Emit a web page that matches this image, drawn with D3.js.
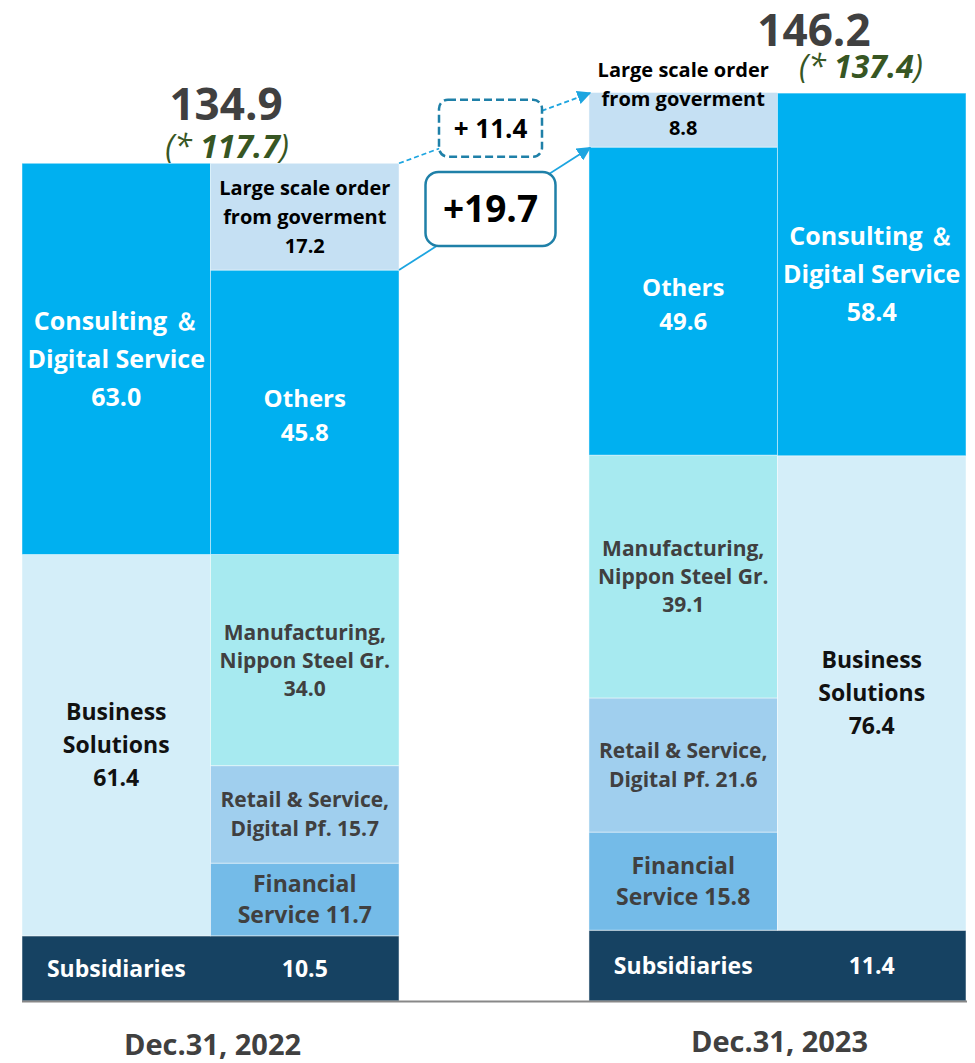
<!DOCTYPE html>
<html><head><meta charset="utf-8">
<script src="https://cdn.jsdelivr.net/npm/d3@7"></script>
<style>
body{margin:0;background:#fff}
svg{display:block}
text{font-family:"Open Sans","Noto Sans",sans-serif;font-weight:700}
</style>
</head><body>
<svg id="chart" width="975" height="1063"></svg>
<script>
// ---- data ----
const categories = ["Dec.31, 2022", "Dec.31, 2023"];
const totals = [134.9, 146.2];
const adjustedTotals = [117.7, 137.4];
const subsidiaries = [10.5, 11.4];
const businessSolutions = [61.4, 76.4];
const consultingDigital = [63.0, 58.4];
const financialService = [11.7, 15.8];
const retailService = [15.7, 21.6];
const manufacturing = [34.0, 39.1];
const others = [45.8, 49.6];
const largeOrder = [17.2, 8.8];
const changeLabels = ["+ 11.4", "+19.7"];

// ---- series definitions (labels + styles) ----
const segSeries = [
  {key:"bs", values:businessSolutions, lines:v=>["Business","Solutions",v], fill:"#D4EEF9", color:"#111", fs:23, lh:33},
  {key:"cd", values:consultingDigital, lines:v=>["Consulting \uFF06","Digital Service",v], fill:"#00B0F0", color:"#fff", fs:25, lh:38}
];
const detSeries = [
  {key:"fin", values:financialService, lines:v=>["Financial","Service "+v], fill:"#74BBE8", color:"#404040", fs:23, lh:31},
  {key:"ret", values:retailService, lines:v=>["Retail & Service,","Digital Pf. "+v], fill:"#A0CFEE", color:"#404040", fs:21, lh:29},
  {key:"man", values:manufacturing, lines:v=>["Manufacturing,","Nippon Steel Gr.",v], fill:"#A7EAF0", color:"#404040", fs:21, lh:28},
  {key:"oth", values:others, lines:v=>["Others",v], fill:"#00B0F0", color:"#fff", fs:24, lh:34},
  {key:"lrg", values:largeOrder, lines:v=>["Large scale order","from goverment",v], fill:"#C5E0F3", color:"#000", fs:20, lh:29}
];
const colOrder = [["seg","det"],["det","seg"]];

const svg = d3.select("#chart");
const x = d3.scaleBand().domain(categories).range([22, 966]).paddingInner(0.335).paddingOuter(0);
const sub = d3.scaleBand().domain([0,1]).range([0, x.bandwidth()]).padding(0);
const y = d3.scaleLinear().domain([0, 150]).range([1001, 69.5]);
const fmt = d3.format(".1f");

function drawLabel(g, cx, cy, lines, st){
  const n = lines.length;
  const t = g.append("text").attr("text-anchor","middle").attr("fill",st.color)
    .style("font-size",st.fs+"px");
  lines.forEach((l,i)=>{
    t.append("tspan").attr("x",cx)
      .attr("y", cy - (n-1)*st.lh/2 + i*st.lh + st.fs*0.36)
      .text(l);
  });
}

categories.forEach((cat, i) => {
  const g = svg.append("g");
  const gx = x(cat);
  const base = subsidiaries[i];
  // subsidiaries bar spanning group
  g.append("rect").attr("x", gx).attr("width", x.bandwidth())
    .attr("y", y(base)).attr("height", y(0)-y(base))
    .attr("fill","#164262").attr("stroke","rgba(255,255,255,0.5)").attr("stroke-width",1);
  const subSt = {color:"#fff", fs:23, lh:30};
  drawLabel(g, gx + sub(0) + sub.bandwidth()/2, (y(0)+y(base))/2, ["Subsidiaries"], subSt);
  drawLabel(g, gx + sub(1) + sub.bandwidth()/2, (y(0)+y(base))/2, [fmt(base)], subSt);

  colOrder[i].forEach((kind, ci) => {
    const series = kind === "seg" ? segSeries : detSeries;
    const cx0 = gx + sub(ci);
    let acc = base;
    series.forEach(s => {
      const v = s.values[i];
      const y0 = acc, y1 = acc + v;
      acc = y1;
      g.append("rect").attr("x", cx0).attr("width", sub.bandwidth())
        .attr("y", y(y1)).attr("height", y(y0)-y(y1))
        .attr("fill", s.fill).attr("stroke","rgba(255,255,255,0.45)").attr("stroke-width",1);
      let cy = (y(y0)+y(y1))/2;
      if (s.key === "lrg" && v < 10) cy -= 21;
      if (s.key === "oth") cy += 3;
      drawLabel(g, cx0 + sub.bandwidth()/2, cy, s.lines(fmt(v)), s);
    });
  });

  // totals
  const topY = y(totals[i]);
  const tcx = i === 0 ? gx + 204 : gx + 225;
  const tOff = i === 0 ? 43 : 47;
  g.append("text").attr("x", tcx).attr("y", topY - tOff).attr("text-anchor","middle")
    .attr("fill","#404040").style("font-size","44px").text(fmt(totals[i]));
  const acx = i === 0 ? gx + 205 : gx + 272;
  const aY = i === 0 ? topY - 5 : topY - 15;
  const at = g.append("text").attr("x", acx).attr("y", aY).attr("text-anchor","middle")
    .attr("fill","#375623").style("font-size","32px").style("font-style","italic");
  at.append("tspan").style("font-weight","400").text("(* ");
  at.append("tspan").style("font-weight","700").text(fmt(adjustedTotals[i]));
  at.append("tspan").style("font-weight","400").text(")");

  // category label
  g.append("text").attr("x", gx + x.bandwidth()/2 + 2).attr("y", i === 0 ? 1055 : 1052)
    .attr("text-anchor","middle").attr("fill","#404040").style("font-size","29px").text(cat);
});

// baseline
svg.append("line").attr("x1", x(categories[0])).attr("x2", x(categories[1]) + x.bandwidth() + 1)
  .attr("y1", y(0)+0.5).attr("y2", y(0)+0.5).attr("stroke","#888").attr("stroke-width",2);

// arrow marker
svg.append("defs").append("marker").attr("id","arr").attr("viewBox","0 0 10 10")
  .attr("refX",9).attr("refY",5).attr("markerWidth",14).attr("markerHeight",14)
  .attr("markerUnits","userSpaceOnUse").attr("orient","auto")
  .append("path").attr("d","M0,0 L10,5 L0,10 Z").attr("fill","#1DA5E0");

const xEnd0 = x(categories[0]) + x.bandwidth();
const xStart1 = x(categories[1]);
const conn = [
  {from: totals[0], to: totals[1], dash:"5,3", label: changeLabels[0], w:103, h:57, rx:9, fs:26, boxDash:"8,4"},
  {from: adjustedTotals[0], to: adjustedTotals[1], dash:null, label: changeLabels[1], w:130, h:74, rx:13, fs:37, boxDash:null}
];
conn.forEach(c => {
  const x1 = xEnd0, y1 = y(c.from), x2 = xStart1 + 1, y2 = y(c.to);
  svg.append("line").attr("x1",x1).attr("y1",y1).attr("x2",x2).attr("y2",y2)
    .attr("stroke","#1DA5E0").attr("stroke-width",1.8)
    .attr("stroke-dasharray", c.dash).attr("marker-end","url(#arr)");
  const mx = (x1+x2)/2 - 4, my = (y1+y2)/2;
  svg.append("rect").attr("x", mx - c.w/2).attr("y", my - c.h/2).attr("width", c.w).attr("height", c.h)
    .attr("rx", c.rx).attr("fill","#fff").attr("stroke","#1F80A8").attr("stroke-width",2.5)
    .attr("stroke-dasharray", c.boxDash);
  svg.append("text").attr("x", mx).attr("y", my + c.fs*0.36).attr("text-anchor","middle")
    .attr("fill","#000").style("font-size", c.fs+"px").text(c.label);
});
</script>
</body></html>
